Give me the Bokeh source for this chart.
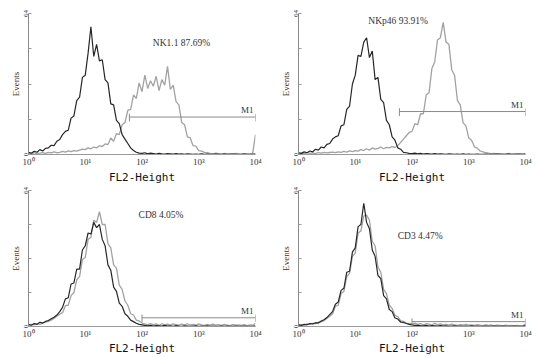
import numpy as np
from bokeh.plotting import figure
from bokeh.layouts import gridplot
from bokeh.models import Range1d, FixedTicker, Label, ColumnDataSource
from bokeh.embed import file_html
from bokeh.resources import INLINE

# channel positions (log10 of FL2-Height), 0.05 decade bins
log_channels = np.round(np.arange(81) * 0.05, 2)
fl2 = 10 ** log_channels

x_ticks = [1, 10, 100, 1000, 10000]
x_tick_labels = ["10⁰", "10¹", "10²", "10³", "10⁴"]
y_ticks = [0, 16, 32, 48, 64]

# ---- panel 1 : NK1.1 ----
tl_ctrl = [1.0, 0.6, 1.5, 1.0, 2.2, 1.6, 2.8, 3.0, 4.2, 4.0,
           6.0, 6.8, 9.0, 10.5, 11.0, 16.5, 17.5, 24.5, 26.0, 35.0,
           36.0, 46.0, 58.0, 44.5, 50.0, 42.5, 43.0, 34.0, 32.5, 23.0,
           22.5, 15.5, 14.0, 9.0, 7.0, 5.0, 3.0, 1.8, 1.0, 0.6,
           0.5, 0.8, 0.3, 0.6, 0.4, 0.2, 0.5, 0.3, 0.2, 0.4,
           0.3, 0.2, 0.4, 0.2, 0.3, 0.1, 0.3, 0.2, 0.1, 0.2,
           0.1, 0.3, 0.1, 0.2, 0.1, 0.1, 0.2, 0.1, 0.1, 0.2,
           0.1, 0.1, 0.2, 0.1, 0.1, 0.1, 0.2, 0.1, 0.1, 0.1,
           0.3]
tl_stain = [0.5, 0.3, 0.8, 0.4, 0.6, 0.9, 0.5, 1.0, 0.7, 1.2,
            0.8, 1.0, 1.4, 1.1, 1.6, 1.3, 1.8, 1.5, 2.0, 2.4,
            2.2, 3.0, 2.6, 3.4, 3.0, 4.0, 3.6, 4.8, 4.5, 7.5,
            6.0, 9.5, 9.0, 13.5, 14.5, 20.0, 20.5, 27.0, 25.5, 32.5,
            28.5, 36.0, 30.0, 33.5, 31.0, 35.5, 29.0, 34.0, 31.5, 40.0,
            29.5, 31.5, 24.0, 22.5, 14.5, 13.5, 8.0, 7.5, 4.0, 3.8,
            1.8, 1.5, 1.0, 0.8, 0.5, 0.3, 0.6, 0.4, 0.2, 0.5,
            0.3, 0.4, 0.2, 0.5, 0.3, 0.2, 0.4, 0.3, 0.2, 0.5,
            9.0]

# ---- panel 2 : NKp46 ----
tr_ctrl = [0.8, 0.5, 1.2, 0.8, 1.6, 1.2, 2.4, 2.0, 3.4, 3.0,
           4.6, 5.0, 7.0, 8.0, 8.5, 13.0, 13.5, 20.5, 22.0, 32.0,
           36.0, 45.0, 44.5, 51.0, 53.0, 44.0, 47.0, 34.0, 35.0, 25.0,
           23.5, 15.5, 13.5, 8.0, 6.5, 3.0, 2.4, 1.0, 0.8, 0.5,
           0.4, 0.6, 0.3, 0.5, 0.2, 0.4, 0.3, 0.2, 0.4, 0.2,
           0.3, 0.2, 0.1, 0.3, 0.2, 0.1, 0.2, 0.1, 0.3, 0.1,
           0.2, 0.1, 0.1, 0.2, 0.1, 0.1, 0.2, 0.1, 0.1, 0.1,
           0.2, 0.1, 0.1, 0.1, 0.2, 0.1, 0.1, 0.1, 0.2, 0.1,
           0.1]
tr_stain = [0.4, 0.6, 0.3, 0.8, 0.5, 0.7, 0.4, 0.9, 0.6, 1.0,
            0.7, 0.9, 1.1, 0.8, 1.2, 1.0, 1.4, 1.1, 1.6, 1.3,
            1.8, 1.5, 2.2, 1.8, 2.6, 2.0, 3.0, 2.4, 2.8, 3.4,
            2.6, 3.2, 3.0, 3.6, 3.2, 4.0,
            5.5, 7.0, 8.5, 10.0, 10.5, 14.0, 13.5, 18.5, 18.5, 27.0,
            28.0, 39.0, 42.0, 52.0, 53.0, 60.0, 51.0, 50.0, 38.5, 36.0,
            24.5, 22.5, 14.5, 13.0, 7.5, 6.5, 3.5, 2.9, 1.6, 1.2,
            0.9, 0.6, 0.4, 0.5, 0.3, 0.4, 0.2, 0.3, 0.5, 0.2,
            0.3, 0.4, 0.2, 0.3, 0.5]

# ---- panel 3 : CD8 ----
bl_ctrl = [1.0, 0.6, 1.4, 1.0, 2.0, 1.6, 2.4, 2.8, 3.6, 4.4,
           5.4, 7.0, 9.0, 13.0, 13.5, 20.0, 20.5, 27.0, 27.0, 36.0,
           38.0, 44.0, 43.5, 49.0, 46.5, 48.0, 41.0, 38.0, 29.0, 26.5,
           18.5, 16.5, 11.0, 9.5, 6.0, 4.8, 3.0, 2.3, 1.5, 1.0,
           0.8, 0.5, 0.3, 0.6, 0.2, 0.4, 0.3, 0.2, 0.5, 0.2,
           0.3, 0.1, 0.4, 0.2, 0.1, 0.3, 0.2, 0.1, 0.2, 0.3,
           0.1, 0.2, 0.1, 0.3, 0.1, 0.2, 0.1, 0.1, 0.2, 0.1,
           0.2, 0.1, 0.1, 0.2, 0.1, 0.1, 0.2, 0.1, 0.1, 0.1,
           0.3]
bl_stain = [0.6, 1.0, 0.8, 1.3, 1.0, 1.6, 2.0, 2.4, 3.0, 3.8,
            4.8, 5.8, 6.5, 9.8, 10.0, 14.5, 16.0, 22.0, 23.5, 31.5,
            32.5, 41.0, 42.0, 50.0, 49.0, 54.0, 48.0, 48.0, 39.0, 37.0,
            29.0, 27.5, 19.5, 17.5, 12.0, 10.0, 6.0, 5.4, 3.0, 2.6,
            1.6, 1.2, 0.8, 1.4, 0.9, 1.2, 0.6, 1.3, 0.8, 1.1,
            0.7, 1.2, 0.9, 0.6, 1.1, 0.8, 1.3, 0.7, 1.0, 0.6,
            1.2, 0.8, 0.5, 1.0, 0.7, 1.1, 0.6, 0.9, 0.5, 1.0,
            0.7, 0.4, 0.9, 0.6, 0.8, 0.5, 0.9, 0.4, 0.7, 0.6,
            1.5]

# ---- panel 4 : CD3 ----
br_ctrl = [0.8, 0.5, 1.0, 0.8, 1.4, 1.2, 1.8, 1.6, 2.6, 3.2,
           4.2, 5.6, 7.0, 10.5, 11.5, 17.0, 18.0, 25.5, 26.0, 35.0,
           37.0, 47.0, 48.0, 58.0, 49.0, 46.0, 36.0, 33.0, 24.0, 22.5,
           14.5, 13.0, 8.0, 7.0, 4.0, 3.5, 2.1, 1.9, 1.4, 1.0,
           0.8, 0.5, 0.6, 0.4, 0.3, 0.5, 0.2, 0.4, 0.3, 0.2,
           0.4, 0.2, 0.3, 0.1, 0.2, 0.3, 0.1, 0.2, 0.1, 0.2,
           0.1, 0.3, 0.1, 0.2, 0.1, 0.1, 0.2, 0.1, 0.1, 0.2,
           0.1, 0.1, 0.2, 0.1, 0.1, 0.1, 0.2, 0.1, 0.1, 0.1,
           0.4]
br_stain = [0.6, 0.9, 0.7, 1.2, 1.0, 1.5, 1.3, 2.0, 2.2, 2.8,
            3.8, 4.8, 6.0, 9.5, 10.0, 15.5, 16.5, 23.5, 25.0, 33.0,
            34.5, 44.0, 45.0, 52.0, 52.5, 50.0, 40.0, 38.0, 28.0, 25.5,
            17.5, 15.5, 10.0, 8.5, 5.2, 4.6, 2.7, 2.4, 1.6, 1.5,
            1.2, 1.6, 1.0, 1.4, 0.8, 1.3, 1.1, 0.7, 1.5, 0.9,
            1.2, 0.8, 1.0, 0.6, 1.1, 0.8, 0.5, 0.9, 0.7, 1.0,
            0.6, 0.8, 0.5, 0.9, 0.6, 0.4, 0.8, 0.5, 0.7, 0.4,
            0.6, 0.5, 0.3, 0.6, 0.4, 0.5, 0.3, 0.5, 0.4, 0.3,
            1.2]

markers = ["NK1.1 87.69%", "NKp46 93.91%", "CD8 4.05%", "CD3 4.47%"]
m1_start = [60, 60, 100, 100]
m1_end = [10000, 10000, 10000, 10000]
m1_level = [17.0, 19.5, 4.1, 2.3]

SERIF = "Liberation Serif"
TXT = "#333333"


def panel(ctrl, stain, idx, width, height, bl, br, bt, bb, note_x, note_y, xlab_standoff):
    p = figure(width=width, height=height, x_axis_type="log",
               x_range=Range1d(1, 10000), y_range=Range1d(0, 64),
               output_backend="svg", toolbar_location=None,
               min_border_left=bl, min_border_right=br,
               min_border_top=bt, min_border_bottom=bb)
    p.outline_line_color = None
    p.grid.visible = False
    p.background_fill_color = "white"
    p.border_fill_color = "white"

    src = ColumnDataSource(dict(x=fl2, ctrl=ctrl, stain=stain))
    p.line("x", "stain", source=src, line_color="#a2a2a2", line_width=1.3)
    p.line("x", "ctrl", source=src, line_color="#262626", line_width=1.2)

    # M1 gate marker
    lv = m1_level[idx]
    p.segment(x0=[m1_start[idx]], y0=[lv], x1=[m1_end[idx]], y1=[lv],
              line_color="#8a8a8a", line_width=1)
    p.segment(x0=[m1_start[idx], m1_end[idx]], y0=[max(lv - 2, 0.3)] * 2,
              x1=[m1_start[idx], m1_end[idx]], y1=[lv + 1.5] * 2,
              line_color="#8a8a8a", line_width=1)
    p.add_layout(Label(x=m1_end[idx], y=lv, x_offset=-2, y_offset=2,
                       text="M1", text_font=SERIF, text_font_size="9px",
                       text_color=TXT, text_align="right", text_baseline="bottom"))

    p.add_layout(Label(x=note_x, y=note_y, text=markers[idx], text_font=SERIF,
                       text_font_size="9.5px", text_color=TXT,
                       text_align="left", text_baseline="middle"))

    # x axis
    xa = p.xaxis[0]
    xa.ticker = FixedTicker(ticks=x_ticks, minor_ticks=[])
    xa.major_label_overrides = dict(zip(x_ticks, x_tick_labels))
    xa.axis_line_color = "#9a9a9a"
    xa.major_tick_out = 0
    xa.major_tick_in = 0
    xa.major_label_standoff = 2
    xa.major_label_text_font = SERIF
    xa.major_label_text_font_size = "9px"
    xa.major_label_text_color = TXT
    xa.axis_label = "FL2-Height"
    xa.axis_label_text_font = "DejaVu Sans Mono"
    xa.axis_label_text_font_size = "11px"
    xa.axis_label_text_font_style = "normal"
    xa.axis_label_text_color = "#111111"
    xa.axis_label_standoff = xlab_standoff

    # y axis
    ya = p.yaxis[0]
    ya.ticker = FixedTicker(ticks=y_ticks, minor_ticks=[])
    ya.major_label_overrides = {16: "", 32: "", 48: ""}
    ya.major_label_orientation = "vertical"
    ya.axis_line_color = "#8a8a8a"
    ya.major_tick_line_color = "#9a9a9a"
    ya.major_tick_in = 3
    ya.major_tick_out = 0
    ya.major_label_standoff = 1
    ya.major_label_text_font = SERIF
    ya.major_label_text_font_size = "7px"
    ya.major_label_text_color = TXT
    ya.axis_label = "Events"
    ya.axis_label_text_font = SERIF
    ya.axis_label_text_font_size = "9px"
    ya.axis_label_text_font_style = "normal"
    ya.axis_label_text_color = TXT
    ya.axis_label_standoff = 0
    return p


p1 = panel(tl_ctrl, tl_stain, 0, 270, 186, 27, 15, 13, 30, 155, 50.8, 1)
p2 = panel(tr_ctrl, tr_stain, 1, 273, 186, 28, 18, 13, 30, 17, 60.8, 1)
p3 = panel(bl_ctrl, bl_stain, 2, 270, 171, 28, 13, 4, 27, 87, 52.4, 0)
p4 = panel(br_ctrl, br_stain, 3, 273, 171, 28, 16, 4, 27, 56, 42.5, 0)

grid = gridplot([[p1, p2], [p3, p4]], toolbar_location=None)

open("out.html", "w").write(file_html(grid, INLINE))
